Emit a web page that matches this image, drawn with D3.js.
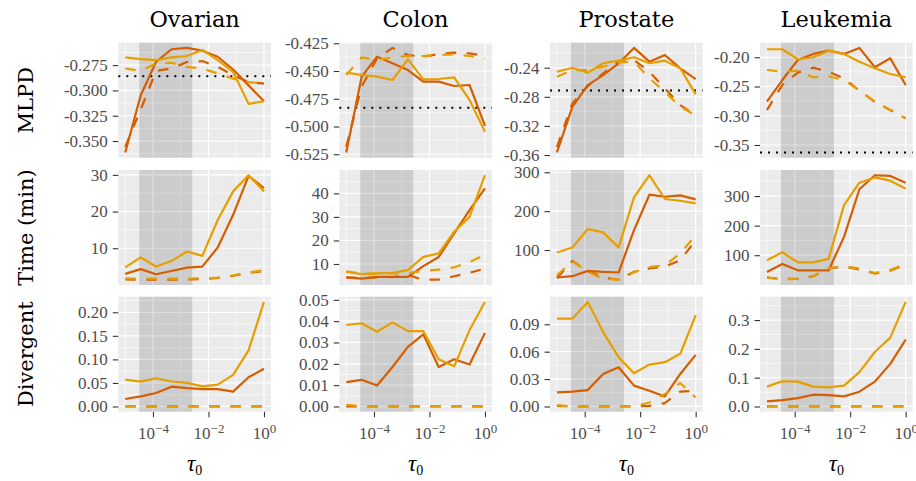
<!DOCTYPE html>
<html>
<head>
<meta charset="utf-8">
<script src="https://cdn.jsdelivr.net/npm/d3@7"></script>
<style>
  body { margin: 0; background: #fff; }
  svg { display: block; }
</style>
</head>
<body>
<div id="chart"></div>
<script>
// x values (tau_0), one per point in every line
const tau = [1e-5, 3.594e-5, 1.292e-4, 4.642e-4, 1.668e-3, 5.995e-3, 2.154e-2, 7.743e-2, 2.783e-1, 1];
const datasets = ["Ovarian", "Colon", "Prostate", "Leukemia"];
const metrics = ["MLPD", "Time (min)", "Divergent"];
const shadeRange = [3.2e-5, 2.6e-3];
const xTicks = [1e-4, 1e-2, 1];
const xTickExp = ["\u22124", "\u22122", "0"];
const xMinor = [1e-5, 1e-3, 1e-1];

// every panel: [dark solid, yellow solid, dark dashed, yellow dashed]
const ovarianMLPD = [
  [-0.3613, -0.305, -0.2717, -0.2593, -0.2580, -0.2607, -0.2667, -0.2793, -0.295, -0.3107],
  [-0.2673, -0.269, -0.270, -0.2673, -0.266, -0.260, -0.270, -0.2817, -0.3133, -0.3107],
  [-0.3557, -0.319, -0.2807, -0.2783, -0.2720, -0.2710, -0.2767, -0.285, -0.2917, -0.2933],
  [-0.2783, -0.2807, -0.2733, -0.2727, -0.2767, -0.2783, -0.2833, -0.2883, -0.2917, -0.2933]
];
const colonMLPD = [
  [-0.5234, -0.4551, -0.4371, -0.4431, -0.4491, -0.4596, -0.4596, -0.4635, -0.4626, -0.4995],
  [-0.4515, -0.4536, -0.4551, -0.4581, -0.4395, -0.4575, -0.4572, -0.4557, -0.4761, -0.5047],
  [-0.5182, -0.4641, -0.4386, -0.4292, -0.4356, -0.4371, -0.4347, -0.4335, -0.4341, -0.4365],
  [-0.4536, -0.4377, -0.4401, -0.4377, -0.4365, -0.4365, -0.4356, -0.4350, -0.4365, -0.4386]
];
const prostateMLPD = [
  [-0.3565, -0.2938, -0.2639, -0.2501, -0.2339, -0.2128, -0.2317, -0.2225, -0.2408, -0.2556],
  [-0.2455, -0.2400, -0.2469, -0.2339, -0.2303, -0.2256, -0.2339, -0.2303, -0.2408, -0.2767],
  [-0.3490, -0.2891, -0.2652, -0.2478, -0.2317, -0.2294, -0.2455, -0.2684, -0.2914, -0.3052],
  [-0.2524, -0.2432, -0.2432, -0.2386, -0.2327, -0.2317, -0.2547, -0.2731, -0.2938, -0.3052]
];
const leukemiaMLPD = [
  [-0.276, -0.2389, -0.2046, -0.1943, -0.1887, -0.1943, -0.1840, -0.2171, -0.2017, -0.2474],
  [-0.1863, -0.1863, -0.2034, -0.2000, -0.1887, -0.1943, -0.2075, -0.2188, -0.2286, -0.2342],
  [-0.2903, -0.2474, -0.2263, -0.2178, -0.2246, -0.2360, -0.2572, -0.2760, -0.2903, -0.3045],
  [-0.2217, -0.2246, -0.2229, -0.2342, -0.2325, -0.2389, -0.2572, -0.2760, -0.2903, -0.3045]
];
const mlpdReference = [-0.286, -0.483, -0.2712, -0.3628];

const ovarianTime = [
  [3.0, 4.3, 2.9, 3.8, 4.7, 5.0, 10.2, 19.1, 29.7, 26.4],
  [4.8, 7.5, 5.0, 6.5, 9.1, 7.9, 17.7, 25.5, 29.9, 25.5],
  [1.5, 1.4, 1.4, 1.4, 1.5, 1.6, 1.9, 2.5, 3.3, 3.8],
  [1.8, 1.7, 1.7, 1.7, 1.7, 1.8, 2.0, 2.6, 3.4, 4.0]
];
const colonTime = [
  [4.3, 3.8, 4.5, 4.5, 4.5, 9.1, 13.0, 23.0, 32.9, 42.1],
  [6.6, 5.7, 6.0, 6.2, 7.4, 13.0, 14.5, 23.7, 30.0, 47.7],
  [4.3, 4.0, 4.3, 4.4, 5.3, 3.3, 3.4, 4.8, 6.3, 8.0],
  [6.9, 5.9, 5.9, 6.0, 6.2, 7.0, 7.6, 8.6, 10.8, 14.0]
];
const prostateTime = [
  [29.4, 32.7, 46.4, 43.8, 42.2, 151.3, 242.3, 237.1, 240.7, 230.4],
  [93.8, 106.7, 153.9, 145.4, 106.7, 235.6, 292.4, 231.2, 226.8, 220.0],
  [28, 72, 46, 29, 24, 44, 53, 57, 74, 125],
  [35, 71, 44, 26, 23.5, 43, 56, 61, 91, 138]
];
const leukemiaTime = [
  [43.4, 70, 49, 49, 48.5, 162, 323, 370.4, 368, 345],
  [83, 110, 76, 76, 87.5, 269.5, 345, 363, 352, 325],
  [24, 20, 20, 29, 55, 62, 52, 38, 48, 68],
  [25, 17, 21, 30, 56, 63, 55, 40, 50, 71]
];

const ovarianDivergent = [
  [0.0158, 0.0214, 0.0287, 0.042, 0.039, 0.037, 0.037, 0.0315, 0.062, 0.080],
  [0.0572, 0.0529, 0.060, 0.053, 0.050, 0.0428, 0.0465, 0.0672, 0.119, 0.222],
  [0, 0, 0, 0, 0, 0, 0, 0, 0, 0],
  [0, 0, 0, 0, 0, 0, 0, 0, 0, 0]
];
const colonDivergent = [
  [0.0114, 0.0125, 0.0098, 0.0185, 0.0279, 0.0338, 0.0185, 0.0221, 0.0197, 0.0345],
  [0.0382, 0.0390, 0.0350, 0.0394, 0.0353, 0.0353, 0.0221, 0.0188, 0.0358, 0.0490],
  [0, 0, 0, 0, 0, 0, 0, 0, 0, 0],
  [0.0008, 0, 0, 0, 0, 0, 0, 0, 0, 0]
];
const prostateDivergent = [
  [0.0154, 0.0162, 0.018, 0.0356, 0.043, 0.0228, 0.0173, 0.011, 0.0356, 0.0565],
  [0.0962, 0.0962, 0.1145, 0.0815, 0.054, 0.0364, 0.0459, 0.0485, 0.0577, 0.0999],
  [0.0007, 0, 0, 0, 0, 0, 0.0007, 0.0037, 0.0162, 0.0173],
  [0.0015, 0, 0, 0, 0, 0, 0.0044, 0.0136, 0.0257, 0.0099]
];
const leukemiaDivergent = [
  [0.0175, 0.0222, 0.0292, 0.0408, 0.0397, 0.035, 0.0513, 0.0863, 0.148, 0.232],
  [0.0688, 0.0875, 0.0863, 0.0688, 0.0665, 0.0723, 0.119, 0.189, 0.239, 0.363],
  [0, 0, 0, 0, 0, 0, 0, 0, 0, 0],
  [0, 0, 0, 0, 0, 0, 0, 0, 0, 0]
];

// y tick labels, per column: [MLPD, Time, Divergent]
const ovarianTicks = [[-0.350, -0.325, -0.300, -0.275], [10, 20, 30], [0, 0.05, 0.10, 0.15, 0.20]];
const colonTicks = [[-0.525, -0.500, -0.475, -0.450, -0.425], [10, 20, 30, 40], [0, 0.01, 0.02, 0.03, 0.04, 0.05]];
const prostateTicks = [[-0.36, -0.32, -0.28, -0.24], [100, 200, 300], [0, 0.03, 0.06, 0.09]];
const leukemiaTicks = [[-0.35, -0.30, -0.25, -0.20], [100, 200, 300], [0, 0.1, 0.2, 0.3]];
const ovarianFormats = [".3f", "d", ".2f"];
const colonFormats = [".3f", "d", ".2f"];
const prostateFormats = [".2f", "d", ".2f"];
const leukemiaFormats = [".2f", "d", ".1f"];

const panels = [
  [ovarianMLPD, ovarianTime, ovarianDivergent],
  [colonMLPD, colonTime, colonDivergent],
  [prostateMLPD, prostateTime, prostateDivergent],
  [leukemiaMLPD, leukemiaTime, leukemiaDivergent]
];
const ticksAll = [ovarianTicks, colonTicks, prostateTicks, leukemiaTicks];
const formatsAll = [ovarianFormats, colonFormats, prostateFormats, leukemiaFormats];

// layout
const W = 916, H = 481;
const colLeft = [118.3, 339.3, 550, 760];
const rowTop = [42.7, 170, 296.7];
const pw = 152.6, ph = 115;
const dark = "#D55E00", yellow = "#E69F00";
const seriesStyle = [
  { color: dark, dash: null },
  { color: yellow, dash: null },
  { color: dark, dash: "10.5,10.5" },
  { color: yellow, dash: "10.5,10.5" }
];
const drawOrder = [0, 2, 1, 3];
const serif = "'Liberation Serif', 'DejaVu Serif', serif";
const titleFont = "'DejaVu Serif', serif";

const locale = d3.formatLocale({ decimal: ".", thousands: ",", grouping: [3], currency: ["", ""], minus: "-" });

const svg = d3.select("#chart").append("svg")
  .attr("width", W).attr("height", H);

const x = d3.scaleLog()
  .domain([Math.pow(10, -5.25), Math.pow(10, 0.25)])
  .range([0, pw]);

datasets.forEach(function (name, c) {
  // strip title
  svg.append("text")
    .attr("x", colLeft[c] + pw / 2).attr("y", 26.5)
    .attr("text-anchor", "middle")
    .style("font-family", titleFont).style("font-size", "22.5px")
    .attr("fill", "#000")
    .text(name);

  // x title
  const xt = svg.append("text")
    .attr("x", colLeft[c] + pw / 2).attr("y", 471)
    .attr("text-anchor", "middle")
    .style("font-family", serif).attr("fill", "#000");
  xt.append("tspan").style("font-style", "italic").style("font-size", "23px").text("\u03C4");
  xt.append("tspan").style("font-size", "14px").attr("dy", 4).text("0");

  metrics.forEach(function (metric, r) {
    const series = panels[c][r];
    const g = svg.append("g")
      .attr("transform", "translate(" + colLeft[c] + "," + rowTop[r] + ")");

    let vals = series.flat();
    if (r === 0) vals = vals.concat([mlpdReference[c]]);
    const ext = d3.extent(vals);
    const pad = (ext[1] - ext[0]) * 0.05;
    const y = d3.scaleLinear().domain([ext[0] - pad, ext[1] + pad]).range([ph, 0]);

    // background
    g.append("rect").attr("width", pw).attr("height", ph).attr("fill", "#EBEBEB");

    // grid
    const ticks = ticksAll[c][r];
    const step = ticks[1] - ticks[0];
    const yMinor = [ticks[0] - step / 2].concat(ticks.map(t => t + step / 2))
      .filter(v => v >= y.domain()[0] && v <= y.domain()[1]);
    g.selectAll(".ymin").data(yMinor).enter().append("line")
      .attr("x1", 0).attr("x2", pw)
      .attr("y1", d => y(d)).attr("y2", d => y(d))
      .attr("stroke", "#fff").attr("stroke-width", 0.6);
    g.selectAll(".xmin").data(xMinor).enter().append("line")
      .attr("y1", 0).attr("y2", ph)
      .attr("x1", d => x(d)).attr("x2", d => x(d))
      .attr("stroke", "#fff").attr("stroke-width", 0.6);
    g.selectAll(".ymaj").data(ticks).enter().append("line")
      .attr("x1", 0).attr("x2", pw)
      .attr("y1", d => y(d)).attr("y2", d => y(d))
      .attr("stroke", "#fff").attr("stroke-width", 1.2);
    g.selectAll(".xmaj").data(xTicks).enter().append("line")
      .attr("y1", 0).attr("y2", ph)
      .attr("x1", d => x(d)).attr("x2", d => x(d))
      .attr("stroke", "#fff").attr("stroke-width", 1.2);

    // shaded interval
    g.append("rect")
      .attr("x", x(shadeRange[0])).attr("width", x(shadeRange[1]) - x(shadeRange[0]))
      .attr("y", 0).attr("height", ph)
      .attr("fill", "#000").attr("fill-opacity", 0.13);

    // reference line
    if (r === 0) {
      g.append("line")
        .attr("x1", 0).attr("x2", pw)
        .attr("y1", y(mlpdReference[c])).attr("y2", y(mlpdReference[c]))
        .attr("stroke", "#000").attr("stroke-width", 2)
        .attr("stroke-dasharray", "2,6");
    }

    // lines
    const line = d3.line().x((d, i) => x(tau[i])).y(d => y(d));
    drawOrder.forEach(function (s) {
      g.append("path")
        .attr("d", line(series[s]))
        .attr("fill", "none")
        .attr("stroke", seriesStyle[s].color)
        .attr("stroke-width", 2.2)
        .attr("stroke-linejoin", "round")
        .attr("stroke-dasharray", seriesStyle[s].dash);
    });

    // y axis
    const ya = g.append("g")
      .call(d3.axisLeft(y).tickValues(ticks).tickSize(5.5).tickPadding(5)
        .tickFormat(locale.format(formatsAll[c][r])));
    ya.select(".domain").remove();
    ya.selectAll(".tick line").attr("stroke", "#333").attr("stroke-width", 1.1);
    ya.selectAll(".tick text")
      .attr("fill", "#4D4D4D")
      .style("font-family", serif).style("font-size", "17px");

    // x axis on bottom row
    if (r === 2) {
      const xa = g.append("g")
        .attr("transform", "translate(0," + ph + ")")
        .call(d3.axisBottom(x).tickValues(xTicks).tickSize(5.5).tickFormat(() => ""));
      xa.select(".domain").remove();
      xa.selectAll(".tick line").attr("stroke", "#333").attr("stroke-width", 1.1);
      xa.selectAll(".tick text")
        .attr("y", 27.3).attr("dy", null)
        .attr("fill", "#4D4D4D")
        .style("font-family", serif).style("font-size", "17px")
        .each(function (d, i) {
          const t = d3.select(this);
          t.append("tspan").text("10");
          t.append("tspan").attr("dy", -5.5).style("font-size", "13px").text(xTickExp[i]);
        });
    }

    // y title on first column
    if (c === 0) {
      svg.append("text")
        .attr("transform", "translate(26," + (rowTop[r] + ph / 2) + ") rotate(-90)")
        .attr("text-anchor", "middle")
        .attr("dominant-baseline", "central")
        .style("font-family", titleFont).style("font-size", "21px")
        .attr("fill", "#000")
        .text(metric);
    }
  });
});
</script>
</body>
</html>
